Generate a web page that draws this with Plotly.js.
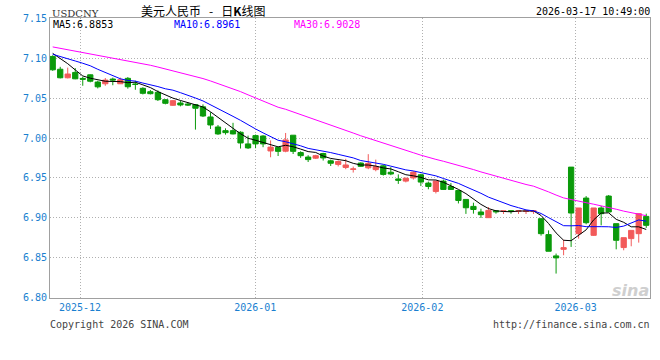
<!DOCTYPE html>
<html>
<head>
<meta charset="utf-8">
<script src="https://cdn.plot.ly/plotly-3.0.1.min.js"></script>
<style>
  html, body { margin: 0; padding: 0; background: #fff; }
  #chart { width: 660px; height: 360px; }
</style>
</head>
<body>
<div id="chart"></div>
<script>
// ---- data (USDCNY daily K line) ----
// closes of the 29 sessions before the visible window (only feed the moving averages)
const prevCloses = [7.128, 7.127, 7.126, 7.125, 7.124, 7.123, 7.122, 7.121, 7.120, 7.119,
                    7.118, 7.117, 7.116, 7.115, 7.114, 7.113, 7.112, 7.111, 7.110, 7.109,
                    7.106, 7.104, 7.103, 7.102, 7.1025, 7.108, 7.112, 7.113, 7.111];

const opens = [7.1020, 7.0860, 7.0753, 7.0820, 7.0745, 7.0790, 7.0700, 7.0678, 7.0737, 7.0678,
               7.0746, 7.0675, 7.0621, 7.0579, 7.0571, 7.0479, 7.0409, 7.0438, 7.0425, 7.0417,
               7.0390, 7.0263, 7.0138, 7.0092, 7.0092, 7.0072, 6.9926, 7.0030, 7.0025, 6.9838,
               6.9882, 6.9835, 7.0035, 6.9818, 6.9762, 6.9748, 6.9806, 6.9715, 6.9670, 6.9632,
               6.9608, 6.9687, 6.9627, 6.9605, 6.9652, 6.9572, 6.9488, 6.9461, 6.9501, 6.9540,
               6.9436, 6.9332, 6.9461, 6.9394, 6.9344, 6.9232, 6.9145, 6.9075, 6.9004, 6.9090,
               6.9083, 6.9090, 6.9083, 6.9082, 6.9080, 6.8991, 6.8792, 6.8526, 6.8608, 6.9636,
               6.8804, 6.9249, 6.8783, 6.9125, 6.9274, 6.8929, 6.8630, 6.8742, 6.8804, 6.9020];

const highs = [7.1035, 7.0890, 7.0880, 7.0874, 7.0766, 7.0795, 7.0715, 7.0750, 7.0755, 7.0755,
               7.0762, 7.0716, 7.0635, 7.0600, 7.0596, 7.0485, 7.0475, 7.0467, 7.0445, 7.0425,
               7.0420, 7.0322, 7.0163, 7.0121, 7.0190, 7.0084, 7.0030, 7.0043, 7.0035, 6.9970,
               6.9885, 7.0063, 7.0035, 6.9834, 6.9785, 6.9790, 6.9815, 6.9730, 6.9720, 6.9740,
               6.9643, 6.9695, 6.9798, 6.9730, 6.9665, 6.9635, 6.9545, 6.9505, 6.9585, 6.9553,
               6.9455, 6.9461, 6.9480, 6.9436, 6.9344, 6.9232, 6.9191, 6.9116, 6.9137, 6.9090,
               6.9090, 6.9090, 6.9090, 6.9090, 6.9092, 6.8995, 6.8845, 6.8555, 6.8729, 6.9636,
               6.9125, 6.9274, 6.9125, 6.9150, 6.9287, 6.8929, 6.8754, 6.8845, 6.9054, 6.9054];

const lows = [7.0840, 7.0745, 7.0745, 7.0735, 7.0653, 7.0696, 7.0620, 7.0653, 7.0660, 7.0675,
              7.0617, 7.0603, 7.0545, 7.0545, 7.0463, 7.0421, 7.0400, 7.0396, 7.0400, 7.0105,
              7.0262, 7.0113, 7.0039, 7.0042, 7.0045, 6.9868, 6.9863, 6.9872, 6.9885, 6.9759,
              6.9775, 6.9822, 6.9800, 6.9752, 6.9700, 6.9737, 6.9718, 6.9650, 6.9645, 6.9610,
              6.9568, 6.9640, 6.9610, 6.9584, 6.9530, 6.9535, 6.9426, 6.9445, 6.9480, 6.9399,
              6.9359, 6.9307, 6.9350, 6.9350, 6.9182, 6.9051, 6.9054, 6.9000, 6.9000, 6.9054,
              6.9050, 6.9053, 6.9050, 6.9050, 6.9050, 6.8779, 6.8584, 6.8305, 6.8534, 6.8638,
              6.8742, 6.8921, 6.8775, 6.8908, 6.9075, 6.8608, 6.8596, 6.8646, 6.8692, 6.8876];

const closes = [7.0853, 7.0753, 7.0800, 7.0740, 7.0735, 7.0710, 7.0640, 7.0724, 7.0725, 7.0728,
                7.0641, 7.0670, 7.0559, 7.0554, 7.0479, 7.0434, 7.0467, 7.0413, 7.0413, 7.0372,
                7.0275, 7.0163, 7.0051, 7.0067, 7.0051, 6.9938, 6.9876, 6.9926, 6.9926, 6.9886,
                6.9833, 6.9976, 6.9833, 6.9779, 6.9730, 6.9779, 6.9751, 6.9684, 6.9706, 6.9663,
                6.9613, 6.9646, 6.9683, 6.9642, 6.9545, 6.9550, 6.9471, 6.9497, 6.9573, 6.9449,
                6.9394, 6.9461, 6.9357, 6.9357, 6.9219, 6.9128, 6.9106, 6.9041, 6.9095, 6.9078,
                6.9088, 6.9085, 6.9089, 6.9088, 6.9090, 6.8804, 6.8584, 6.8501, 6.8629, 6.9062,
                6.9125, 6.8941, 6.9125, 6.9054, 6.9075, 6.8721, 6.8754, 6.8845, 6.9054, 6.8908];

const maPeriods = [5, 10, 30];
const maLegendValues = [6.8853, 6.8961, 6.9028];
const monthTickLabels = ['2025-12', '2026-01', '2026-02', '2026-03'];
const monthTickIdx = [3.64, 26.97, 49.2, 69.6];
const yTickValues = [6.80, 6.85, 6.90, 6.95, 7.00, 7.05, 7.10, 7.15];

// ---- build ----
const idx = closes.map((_, i) => i);
const allCloses = prevCloses.concat(closes);
function movingAverage(n) {
  const off = prevCloses.length;
  return closes.map((_, i) => {
    let s = 0;
    for (let k = 0; k < n; k++) s += allCloses[off + i - k];
    return s / n;
  });
}

const RED = '#f25a5a', GREEN = '#0a9a0a';
const MA_COLORS = ['#000000', '#0000ff', '#ff00ff'];
const MONO = 'DejaVu Sans Mono, monospace';
const NB = '\u00A0';

const traces = [{
  type: 'candlestick',
  x: idx, open: opens, high: highs, low: lows, close: closes,
  increasing: { line: { color: RED, width: 1 }, fillcolor: RED },
  decreasing: { line: { color: GREEN, width: 1 }, fillcolor: GREEN },
  whiskerwidth: 0,
  hoverinfo: 'skip',
  showlegend: false
}];
maPeriods.forEach((n, j) => {
  traces.push({
    type: 'scatter', mode: 'lines',
    x: idx, y: movingAverage(n),
    line: { color: MA_COLORS[j], width: 1 },
    hoverinfo: 'skip', showlegend: false
  });
});

function px2paperX(px) { return (px - 50) / 600; }
function px2paperY(py) { return (298 - py) / 280; }

const annotations = [
  { text: 'USDCNY', x: px2paperX(51), y: px2paperY(13), xanchor: 'left', yanchor: 'middle',
    font: { family: 'DejaVu Serif, serif', size: 10, color: '#333' } },
  { text: '美元人民币' + NB + NB + NB + '-' + NB + NB + NB + '日<b>K</b>线图', x: px2paperX(140), y: px2paperY(10),
    xanchor: 'left', yanchor: 'middle',
    font: { family: 'Noto Sans CJK SC, sans-serif', size: 12, color: '#000' } },
  { text: '2026-03-17 10:49:00', x: px2paperX(651), y: px2paperY(11), xanchor: 'right', yanchor: 'middle',
    font: { family: MONO, size: 10, color: '#000' } },
  { text: 'Copyright 2026 SINA.COM', x: px2paperX(49), y: px2paperY(324), xanchor: 'left', yanchor: 'middle',
    font: { family: MONO, size: 10, color: '#444' } },
  { text: 'http://finance.sina.com.cn', x: px2paperX(651), y: px2paperY(324), xanchor: 'right', yanchor: 'middle',
    font: { family: MONO, size: 10, color: '#444' } },
  { text: '<b><i>sina</i></b>', x: px2paperX(650), y: px2paperY(290), xanchor: 'right', yanchor: 'middle',
    font: { family: 'DejaVu Sans, sans-serif', size: 16, color: '#cfcfcf' } }
];
const legendX = [52, 173, 293];
maPeriods.forEach((n, j) => {
  annotations.push({
    text: 'MA' + n + ':' + maLegendValues[j].toFixed(4),
    x: px2paperX(legendX[j]), y: px2paperY(24), xanchor: 'left', yanchor: 'middle',
    font: { family: MONO, size: 10, color: MA_COLORS[j] }
  });
});
annotations.forEach(a => { a.xref = 'paper'; a.yref = 'paper'; a.showarrow = false; a.borderpad = 0; });

const layout = {
  width: 660, height: 360,
  margin: { l: 50, r: 10, t: 18, b: 62 },
  paper_bgcolor: '#ffffff', plot_bgcolor: '#ffffff',
  showlegend: false,
  boxgap: 0.3, boxgroupgap: 0,
  xaxis: {
    range: [-0.36, 79.5], fixedrange: true,
    rangeslider: { visible: false },
    tickvals: monthTickIdx, ticktext: monthTickLabels,
    ticks: '', showgrid: true, gridcolor: '#b0b0b0', griddash: '1px,2px', gridwidth: 1,
    zeroline: false, showline: true, mirror: true, linecolor: '#a0a0a0', linewidth: 1,
    tickfont: { family: MONO, size: 10, color: '#1a7fd0' }
  },
  yaxis: {
    range: [6.79995, 7.15005], fixedrange: true,
    tickvals: yTickValues, ticktext: yTickValues.map(v => v.toFixed(2)),
    ticks: '', showgrid: true, gridcolor: '#b0b0b0', griddash: '1px,2px', gridwidth: 1,
    zeroline: false, showline: true, mirror: true, linecolor: '#a0a0a0', linewidth: 1,
    tickfont: { family: MONO, size: 10, color: '#1a7fd0' }
  },
  annotations: annotations
};

Plotly.newPlot('chart', traces, layout, { displayModeBar: false, staticPlot: true });
</script>
</body>
</html>
